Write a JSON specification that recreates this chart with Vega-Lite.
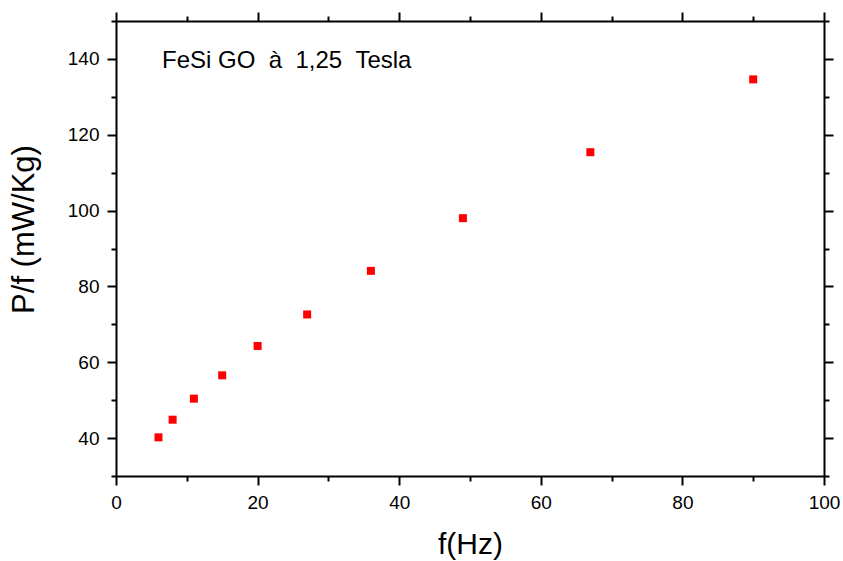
{
  "$schema": "https://vega.github.io/schema/vega-lite/v6.json",
  "width": 708,
  "height": 455,
  "autosize": {"type": "none"},
  "padding": {"left": 116, "top": 21, "right": 19, "bottom": 85},
  "background": "white",
  "config": {
    "view": {"stroke": null},
    "font": "Liberation Sans",
    "axis": {
      "domainColor": "black",
      "domainWidth": 2,
      "tickColor": "black",
      "tickWidth": 2,
      "grid": false,
      "labelFont": "Liberation Sans",
      "labelFontSize": 19,
      "labelColor": "black",
      "titleFont": "Liberation Sans",
      "titleFontSize": 30,
      "titleFontWeight": "normal",
      "titleColor": "black"
    }
  },
  "layer": [
    {
      "data": {
        "values": [
          {"f": 6, "P": 40.2},
          {"f": 8, "P": 44.85},
          {"f": 11, "P": 50.4},
          {"f": 15, "P": 56.55},
          {"f": 20, "P": 64.3},
          {"f": 27, "P": 72.6},
          {"f": 36, "P": 84.1},
          {"f": 49, "P": 98.0},
          {"f": 67, "P": 115.4},
          {"f": 90, "P": 134.6}
        ]
      },
      "mark": {"type": "square", "color": "#ff0000", "opacity": 1, "size": 64},
      "encoding": {
        "x": {
          "field": "f",
          "type": "quantitative",
          "scale": {"domain": [0, 100], "nice": false, "zero": false},
          "axis": {
            "orient": "bottom",
            "title": "f(Hz)",
            "values": [0, 10, 20, 30, 40, 50, 60, 70, 80, 90, 100],
            "labelExpr": "datum.value % 20 === 0 ? datum.label : ''",
            "tickSize": {"condition": {"test": "datum.value % 20 === 0", "value": 9}, "value": 5},
            "labelPadding": 8,
            "labelFlush": false,
            "labelOverlap": false,
            "titleX": 354,
            "titleY": 77,
            "titleBaseline": "alphabetic",
            "titleAlign": "center"
          }
        },
        "y": {
          "field": "P",
          "type": "quantitative",
          "scale": {"domain": [30, 150], "nice": false, "zero": false},
          "axis": {
            "orient": "left",
            "title": "P/f (mW/Kg)",
            "titleFontSize": 31,
            "values": [30, 40, 50, 60, 70, 80, 90, 100, 110, 120, 130, 140, 150],
            "labelExpr": "datum.value % 20 === 0 ? datum.label : ''",
            "tickSize": {"condition": {"test": "datum.value % 20 === 0", "value": 9}, "value": 5},
            "labelPadding": 8,
            "labelFlush": false,
            "labelOverlap": false,
            "titleAngle": -90,
            "titleX": -83,
            "titleY": 208,
            "titleBaseline": "alphabetic",
            "titleAlign": "center"
          }
        }
      }
    },
    {
      "data": {"values": [{"label": "FeSi GO\u00a0\u00a0à\u00a0\u00a01,25\u00a0\u00a0Tesla"}]},
      "mark": {"type": "text", "align": "left", "baseline": "alphabetic", "fontSize": 24, "fontWeight": "normal", "font": "Liberation Sans", "color": "black"},
      "encoding": {
        "x": {
          "datum": 6.5,
          "type": "quantitative",
          "axis": {
            "orient": "top",
            "title": null,
            "labels": false,
            "values": [0, 10, 20, 30, 40, 50, 60, 70, 80, 90, 100],
            "tickSize": {"condition": {"test": "datum.value % 20 === 0", "value": 9}, "value": 5}
          }
        },
        "y": {
          "datum": 137.6,
          "type": "quantitative",
          "axis": {
            "orient": "right",
            "title": null,
            "labels": false,
            "values": [30, 40, 50, 60, 70, 80, 90, 100, 110, 120, 130, 140, 150],
            "tickSize": {"condition": {"test": "datum.value % 20 === 0", "value": 9}, "value": 5}
          }
        },
        "text": {"field": "label", "type": "nominal"}
      }
    }
  ],
  "resolve": {"axis": {"x": "independent", "y": "independent"}}
}
